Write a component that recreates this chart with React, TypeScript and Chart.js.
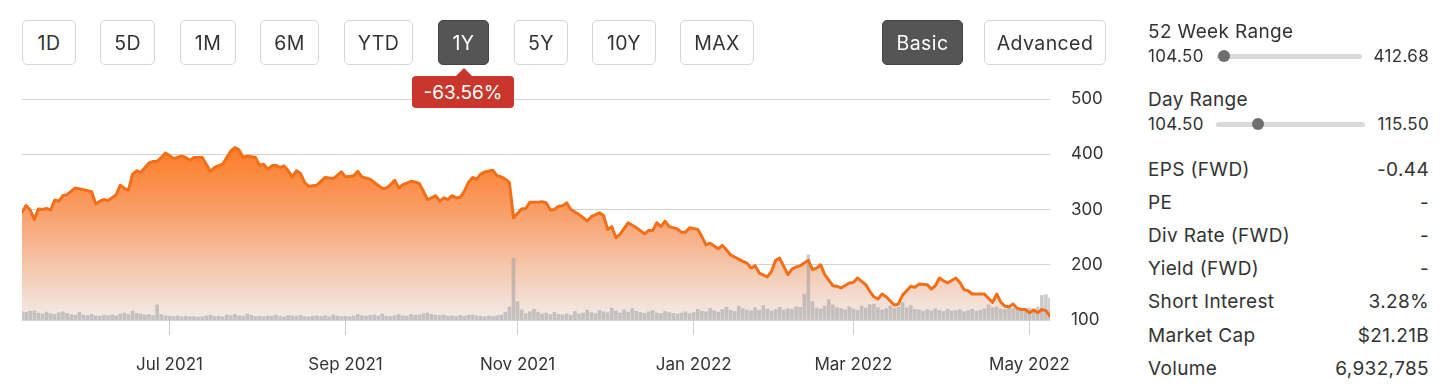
import React, { useEffect, useRef } from "react";
import { Chart, registerables } from "chart.js";

Chart.register(...registerables);

// ---- Data (trading-day index 0 = 11 May 2021, 251 = 9 May 2022) ----
const priceIdx = [
  0, 1, 2, 3, 4, 5, 6, 7, 8, 9, 10, 11, 13, 15, 17, 18, 19, 20, 21, 23, 24, 25, 26, 27, 28, 29,
  31, 32, 33, 34, 35, 36, 37, 39, 40, 41, 42, 44, 45, 46, 47, 49, 50, 51, 52, 53, 54, 55, 57, 58,
  59, 60, 61, 62, 63, 64, 65, 66, 67, 68, 69, 70, 72, 73, 74, 76, 78, 79, 81, 82, 83, 85, 86, 88,
  89, 90, 91, 92, 93, 95, 96, 97, 98, 99, 100, 101, 102, 103, 104, 105, 106, 107, 108, 109, 110,
  111, 112, 113, 115, 116, 117, 118, 119, 120, 121, 122, 123, 124, 126, 127, 128, 129, 130, 131,
  132, 133, 134, 136, 137, 138, 139, 141, 142, 143, 144, 145, 146, 148, 150, 152, 153, 154, 155,
  156, 157, 158, 160, 161, 162, 163, 165, 166, 167, 168, 170, 171, 172, 173, 174, 176, 177, 178,
  179, 180, 182, 183, 184, 185, 186, 187, 188, 189, 190, 191, 192, 193, 194, 195, 196, 198, 199,
  200, 202, 203, 204, 205, 206, 207, 208, 209, 210, 211, 213, 214, 215, 216, 217, 218, 219, 221,
  222, 223, 224, 225, 226, 228, 229, 230, 231, 232, 235, 236, 237, 238, 239, 240, 241, 242, 243,
  244, 245, 246, 247, 248, 249, 250, 251,
];
const priceVal = [
  295, 307, 299, 282, 301, 300, 302, 299, 317, 315, 325, 327, 339, 336, 332, 310, 315, 318, 316, 327, 344, 338, 335, 364, 370, 367,
  384, 387, 387, 394, 402, 398, 392, 397, 394, 389, 394, 394, 382, 369, 376, 382, 394, 406, 412, 408, 394, 397, 394, 380,
  382, 373, 379, 380, 376, 379, 370, 359, 370, 365, 349, 342, 344, 351, 358, 356, 368, 359, 361, 369, 359, 355, 349, 338,
  339, 345, 353, 339, 345, 351, 350, 347, 333, 318, 321, 325, 315, 321, 318, 325, 321, 322, 333, 349, 358,
  355, 364, 368, 371, 361, 359, 355, 349, 285, 293, 301, 302, 313, 313, 314, 312, 299, 300, 306,
  307, 312, 300, 291, 285, 279, 287, 294, 289, 264, 269, 249, 255, 276, 267, 256, 262, 262, 276,
  269, 279, 269, 265, 259, 259, 267, 264, 251, 236, 239, 229, 235, 227, 218, 214, 206, 203, 194,
  198, 185, 178, 188, 208, 212, 197, 182, 192, 196, 198, 203, 208, 191, 194, 200, 182, 162, 161,
  158, 167, 168, 176, 170, 164, 152, 142, 138, 147, 142, 127, 129, 145, 153, 161, 159, 165, 164,
  156, 162, 176, 171, 167, 176, 168, 155, 153, 147, 147, 139, 132, 147, 132, 125, 124, 129, 121,
  119, 119, 113, 118, 113, 119, 117, 107,
];
// daily volume, millions of shares
const volumes = [
  2.6, 2.4, 2.8, 2.9, 2.2, 1.9, 2.5, 2.0, 1.8, 2.3,
  2.6, 2.1, 1.7, 1.5, 2.4, 1.6, 1.4, 1.8, 1.3, 1.2,
  1.5, 1.4, 1.6, 1.3, 1.9, 2.2, 1.7, 2.8, 2.1, 1.9,
  1.6, 1.8, 1.4, 4.8, 1.7, 1.3, 1.2, 1.1, 1.3, 1.0,
  1.2, 1.0, 1.1, 0.9, 1.0, 1.3, 1.5, 1.1, 1.2, 1.0,
  1.6, 1.4, 1.8, 1.3, 1.2, 1.9, 1.5, 1.1, 1.2, 1.0,
  1.3, 1.2, 1.6, 1.1, 1.0, 1.4, 1.3, 1.2, 1.5, 1.1,
  1.0, 1.2, 1.3, 1.1, 1.4, 1.0, 1.6, 1.3, 1.1, 1.2,
  1.0, 1.3, 1.8, 1.4, 1.2, 1.5, 1.6, 1.3, 1.9, 1.2,
  1.1, 1.4, 1.7, 1.3, 1.2, 1.8, 1.5, 1.6, 2.0, 2.2,
  1.8, 1.5, 1.4, 1.6, 1.2, 1.3, 1.1, 1.4, 1.2, 1.5,
  1.6, 1.3, 1.2, 1.0, 1.3, 1.1, 1.4, 1.6, 2.4, 4.1,
  19.5, 5.8, 3.2, 2.0, 2.6, 3.4, 2.5, 1.9, 2.2, 1.7,
  2.4, 1.8, 1.6, 2.0, 1.5, 2.7, 1.9, 2.2, 3.1, 2.4,
  2.0, 3.0, 2.6, 2.3, 3.8, 2.9, 2.2, 3.2, 2.5, 3.6,
  2.8, 2.4, 2.1, 2.6, 3.0, 2.2, 2.0, 2.7, 2.4, 2.1,
  1.9, 2.2, 2.6, 2.0, 2.4, 3.4, 2.8, 2.6, 3.7, 3.0,
  2.5, 3.3, 4.0, 3.1, 2.7, 4.4, 3.6, 3.2, 2.9, 3.9,
  3.1, 4.6, 3.5, 2.8, 3.3, 4.0, 3.2, 3.6, 3.4, 4.2,
  4.0, 8.2, 20.6, 5.8, 3.8, 3.5, 4.4, 6.4, 4.8, 3.9,
  3.6, 3.2, 4.2, 3.5, 3.0, 4.4, 3.8, 4.9, 5.0, 3.9,
  3.2, 3.6, 4.4, 3.7, 4.0, 5.5, 3.9, 4.6, 3.4, 3.2,
  2.8, 3.3, 2.9, 3.6, 3.1, 2.7, 3.4, 2.9, 3.0, 3.3,
  2.6, 3.0, 3.4, 2.8, 3.1, 3.6, 4.8, 3.9, 4.2, 3.5,
  3.3, 4.0, 3.6, 3.2, 3.4, 3.0, 3.8, 3.5, 4.1, 7.8,
  8.0, 6.9,
];
const xTickIdx = [36, 79, 121, 164, 203, 246];
const xTickLabels = ["Jul 2021", "Sep 2021", "Nov 2021", "Jan 2022", "Mar 2022", "May 2022"];
const yTicks = [100, 200, 300, 400, 500];

const rangeButtons = ["1D", "5D", "1M", "6M", "YTD", "1Y", "5Y", "10Y", "MAX"];
const activeRange = "1Y";
const modeButtons = ["Basic", "Advanced"];
const activeMode = "Basic";
const changeLabel = "-63.56%";

const week52 = { low: 104.5, high: 412.68, lowText: "104.50", highText: "412.68" };
const dayRange = { low: 104.5, high: 115.5, lowText: "104.50", highText: "115.50" };
const lastPrice = 107.4;

const statLabels = ["EPS (FWD)", "PE", "Div Rate (FWD)", "Yield (FWD)", "Short Interest", "Market Cap", "Volume"];
const statValues = ["-0.44", "-", "-", "-", "3.28%", "$21.21B", "6,932,785"];

const FONT = 'Inter, "Noto Sans", "Liberation Sans", sans-serif';
const TEXT = "#333333";

const rangeBoxes: [number, number][] = [
  [22, 54], [100, 55], [180, 56], [260, 59], [344, 69], [438, 51], [514, 54], [592, 64], [680, 74],
];
const modeBoxes: [number, number][] = [[882, 81], [984, 122]];

function Button({ label, left, width, active }: { label: string; left: number; width: number; active: boolean }) {
  return (
    <div
      style={{
        position: "absolute",
        left,
        top: 20,
        width,
        height: 45,
        boxSizing: "border-box",
        border: active ? "1px solid #444" : "1px solid #d6d6d6",
        borderRadius: 5,
        background: active ? "#555555" : "#ffffff",
        color: active ? "#ffffff" : TEXT,
        display: "flex",
        alignItems: "center",
        justifyContent: "center",
        fontFamily: FONT,
        fontSize: 19.5,
        letterSpacing: 0.4,
      }}
    >
      {label}
    </div>
  );
}

function RangeBar({ top, trackLeft, trackWidth, low, high }: { top: number; trackLeft: number; trackWidth: number; low: number; high: number }) {
  const r = 6;
  const frac = Math.min(1, Math.max(0, (lastPrice - low) / (high - low)));
  const cx = trackLeft + r + frac * (trackWidth - 2 * r);
  return (
    <>
      <div style={{ position: "absolute", left: trackLeft, top: top - 2.5, width: trackWidth, height: 5, background: "#d9d9d9", borderRadius: 3 }} />
      <div style={{ position: "absolute", left: cx - r, top: top - r, width: 2 * r, height: 2 * r, background: "#6f6f6f", borderRadius: "50%" }} />
    </>
  );
}

function Txt({ children, left, right, center, size }: { children: React.ReactNode; left?: number; right?: number; center: number; size: number }) {
  return (
    <div
      style={{
        position: "absolute",
        left,
        right,
        top: center - 10,
        height: 20,
        lineHeight: "20px",
        fontFamily: FONT,
        fontSize: size,
        letterSpacing: 0.35,
        color: TEXT,
        whiteSpace: "nowrap",
        textAlign: right !== undefined ? "right" : "left",
      }}
    >
      {children}
    </div>
  );
}

export default function App() {
  const ref = useRef<HTMLCanvasElement>(null);

  useEffect(() => {
    document.body.style.margin = "0";
    const canvas = ref.current;
    if (!canvas) return;
    const chart = new Chart(canvas, {
      type: "line",
      data: {
        datasets: [
          {
            type: "line",
            data: priceIdx.map((x, i) => ({ x, y: priceVal[i] })),
            borderColor: "#f36f17",
            borderWidth: 3,
            borderJoinStyle: "round",
            borderCapStyle: "round",
            pointRadius: 0,
            tension: 0,
            fill: "start",
            backgroundColor: (c: any) => {
              const area = c.chart.chartArea;
              if (!area) return "rgba(0,0,0,0)";
              const g = c.chart.ctx.createLinearGradient(0, area.top, 0, area.bottom);
              g.addColorStop(0, "#ff6d08");
              g.addColorStop(0.23, "#fd7d28");
              g.addColorStop(0.5, "#f99d66");
              g.addColorStop(0.75, "#f5c5aa");
              g.addColorStop(1, "#f1ecea");
              return g;
            },
            yAxisID: "y",
            order: 0,
          } as any,
          {
            type: "bar",
            data: volumes.map((v, i) => ({ x: i, y: v })),
            backgroundColor: "rgba(155,155,155,0.52)",
            barThickness: 3,
            yAxisID: "yv",
            order: 1,
          } as any,
        ],
      },
      options: {
        responsive: false,
        animation: false,
        events: [],
        layout: { padding: { left: 22, top: 99, right: 0, bottom: 0 } },
        plugins: {
          legend: { display: false },
          tooltip: { enabled: false },
          filler: { drawTime: "beforeDatasetsDraw" },
        } as any,
        scales: {
          x: {
            type: "linear",
            min: 0,
            max: 251,
            offset: false,
            afterBuildTicks: (s: any) => {
              s.ticks = xTickIdx.map((v) => ({ value: v }));
            },
            afterFit: (s: any) => {
              s.height = 71;
            },
            grid: { offset: false, drawOnChartArea: false, drawTicks: true, tickLength: 15, color: "#cccccc", lineWidth: 1 },
            border: { display: false },
            ticks: {
              autoSkip: false,
              maxRotation: 0,
              padding: 20,
              color: TEXT,
              font: { family: FONT, size: 17 },
              callback: (v: any) => {
                const k = xTickIdx.indexOf(Number(v));
                return k >= 0 ? xTickLabels[k] : "";
              },
            },
          },
          y: {
            position: "right",
            min: 100,
            max: 500,
            afterBuildTicks: (s: any) => {
              s.ticks = yTicks.map((v) => ({ value: v }));
            },
            afterFit: (s: any) => {
              s.width = 70;
            },
            grid: { color: "#d3d3d3", lineWidth: 1, drawTicks: false },
            border: { display: false },
            ticks: { padding: 21, color: TEXT, font: { family: FONT, size: 17 } },
          },
          yv: { display: false, min: 0, max: 70 },
        },
      } as any,
    });
    return () => chart.destroy();
  }, []);

  const rowCenters = [169.5, 202.5, 235.5, 269, 301.5, 335.5, 368.5];

  return (
    <div style={{ position: "absolute", left: 0, top: 0, width: 1456, height: 391, overflow: "hidden", background: "#fff" }}>
      <canvas ref={ref} width={1120} height={391} style={{ position: "absolute", left: 0, top: 0, width: 1120, height: 391 }} />

      {rangeButtons.map((b, i) => (
        <Button key={b} label={b} left={rangeBoxes[i][0]} width={rangeBoxes[i][1]} active={b === activeRange} />
      ))}
      {modeButtons.map((b, i) => (
        <Button key={b} label={b} left={modeBoxes[i][0]} width={modeBoxes[i][1]} active={b === activeMode} />
      ))}

      {/* change badge */}
      <div
        style={{
          position: "absolute",
          left: 455,
          top: 68,
          width: 0,
          height: 0,
          borderLeft: "9px solid transparent",
          borderRight: "9px solid transparent",
          borderBottom: "9px solid #c9372c",
        }}
      />
      <div
        style={{
          position: "absolute",
          left: 412,
          top: 76,
          width: 102,
          height: 32,
          borderRadius: 4,
          background: "#c9372c",
          color: "#fff",
          fontFamily: FONT,
          fontSize: 19,
          display: "flex",
          alignItems: "center",
          justifyContent: "center",
        }}
      >
        {changeLabel}
      </div>

      {/* right panel */}
      <Txt left={1148} center={31.5} size={19}>52 Week Range</Txt>
      <Txt left={1148} center={56} size={17}>{week52.lowText}</Txt>
      <Txt right={27} center={56} size={17}>{week52.highText}</Txt>
      <RangeBar top={56} trackLeft={1217} trackWidth={145} low={week52.low} high={week52.high} />

      <Txt left={1148} center={100} size={19}>Day Range</Txt>
      <Txt left={1148} center={123.5} size={17}>{dayRange.lowText}</Txt>
      <Txt right={27} center={123.5} size={17}>{dayRange.highText}</Txt>
      <RangeBar top={124} trackLeft={1216} trackWidth={149} low={dayRange.low} high={dayRange.high} />

      {statLabels.map((l, i) => (
        <React.Fragment key={l}>
          <Txt left={1148} center={rowCenters[i]} size={19}>{l}</Txt>
          <Txt right={27} center={rowCenters[i]} size={19}>{statValues[i]}</Txt>
        </React.Fragment>
      ))}
    </div>
  );
}
